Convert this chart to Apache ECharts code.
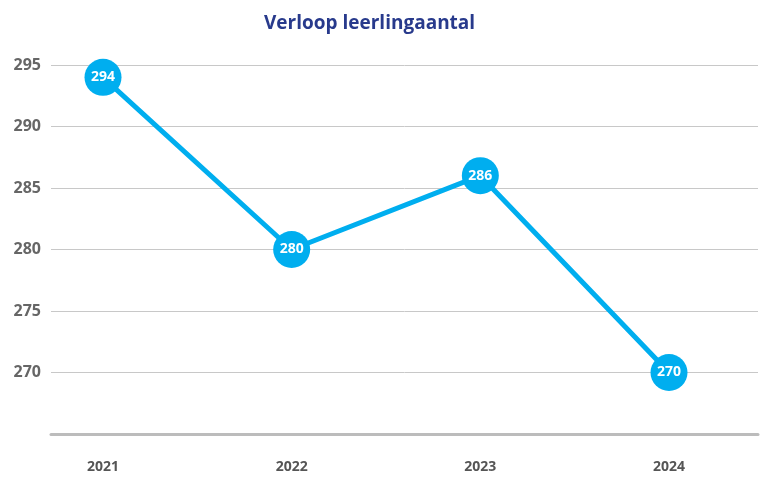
<!DOCTYPE html>
<html>
<head>
<meta charset="utf-8">
<script src="https://cdn.jsdelivr.net/npm/echarts@6/dist/echarts.min.js"></script>
<style>
  html, body { margin: 0; padding: 0; background: #fff; }
  #chart { width: 760px; height: 477px; }
</style>
</head>
<body>
<div id="chart"></div>
<script>
// gegevens
var jaren = ["2021", "2022", "2023", "2024"];
var leerlingen = [294, 280, 286, 270];

var chart = echarts.init(document.getElementById("chart"));
var option = {
  animation: false,
  title: {
    text: "Verloop leerlingaantal",
    left: 259,
    top: 9,
    textStyle: {
      fontFamily: "Open Sans",
      fontSize: 19,
      fontWeight: "bold",
      color: "#283a8c"
    }
  },
  // grid 0: y-as met rasterlijnen, grid 1: de lijn zelf
  grid: [
    { left: 51, right: 2, top: 65, bottom: 43 },
    { left: 103, right: 91, top: 65, bottom: 43 }
  ],
  xAxis: [
    {
      gridIndex: 0,
      type: "value",
      min: 0,
      max: 1,
      axisLabel: { show: false },
      axisTick: { show: false },
      splitLine: { show: false },
      axisLine: { show: true, lineStyle: { color: "#bcbcbc", width: 3 } }
    },
    {
      gridIndex: 1,
      type: "category",
      data: jaren,
      boundaryGap: false,
      axisLine: { show: false },
      axisTick: { show: false },
      axisLabel: {
        margin: 26,
        fontFamily: "Open Sans",
        fontSize: 14,
        fontWeight: "bold",
        color: "#555"
      }
    }
  ],
  yAxis: [
    {
      gridIndex: 0,
      type: "value",
      min: 265,
      max: 295,
      interval: 5,
      axisLine: { show: false },
      axisTick: { show: false },
      axisLabel: {
        showMinLabel: false,
        margin: 10,
        fontFamily: "Open Sans",
        fontSize: 16,
        fontWeight: "bold",
        color: "#666"
      },
      splitLine: { lineStyle: { color: "#c8c8c8", width: 1 } }
    },
    {
      gridIndex: 1,
      type: "value",
      min: 265,
      max: 295,
      show: false
    }
  ],
  series: [
    {
      type: "line",
      xAxisIndex: 1,
      yAxisIndex: 1,
      data: leerlingen,
      symbol: "circle",
      symbolSize: 37,
      lineStyle: { color: "#00aeef", width: 5 },
      itemStyle: { color: "#00aeef" },
      label: {
        show: true,
        position: "inside",
        color: "#fff",
        fontFamily: "Open Sans",
        fontSize: 14,
        fontWeight: "bold"
      }
    }
  ]
};
chart.setOption(option);
</script>
</body>
</html>
